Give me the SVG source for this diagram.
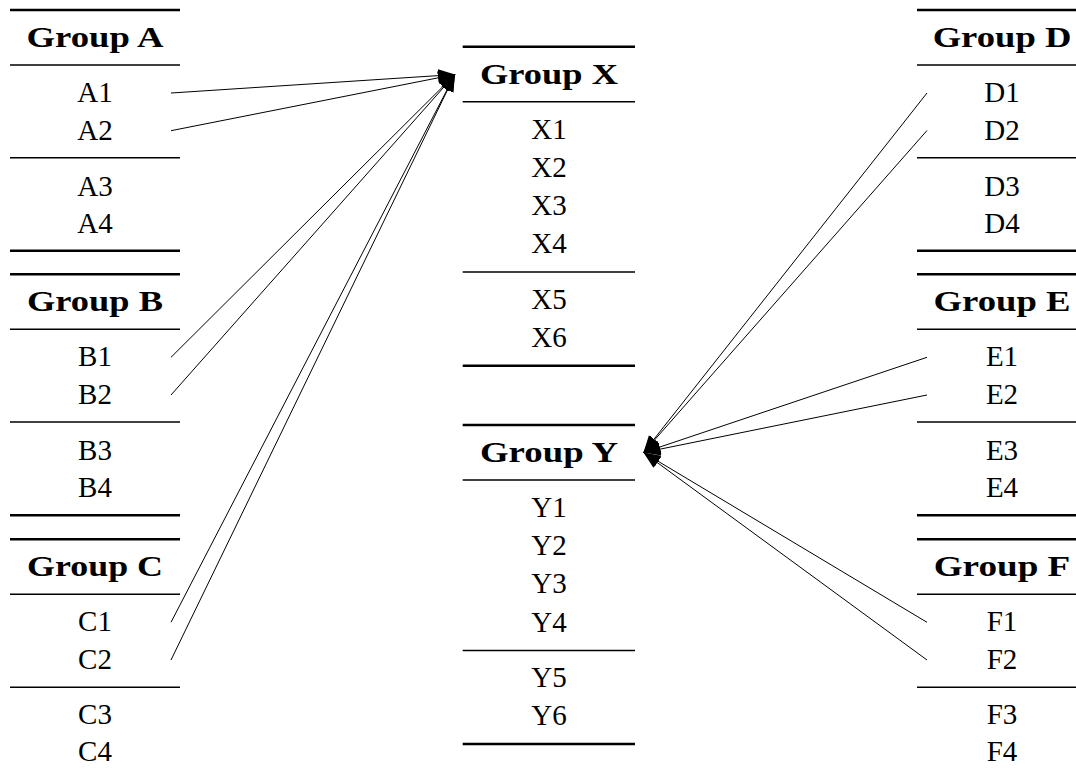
<svg xmlns="http://www.w3.org/2000/svg" width="1076" height="778" viewBox="0 0 1076 778">
<style>
.thick{stroke:#000;stroke-width:2.6;fill:none}
.thin{stroke:#000;stroke-width:1.6;fill:none}
.hd{font-family:"Liberation Serif","Times New Roman",serif;font-weight:bold;font-size:29px;text-anchor:middle;fill:#000}
.tx{font-family:"Liberation Serif","Times New Roman",serif;font-size:29px;text-anchor:middle;fill:#000}
.cn{stroke:#000;stroke-width:1;fill:none;marker-end:url(#ah)}
</style>
<defs>
<marker id="ah" markerUnits="userSpaceOnUse" markerWidth="20" markerHeight="16" viewBox="0 -8 20 16" refX="17" refY="0" orient="auto">
<path d="M0,-6.5 L17,0 L0,6.5 z" fill="#000"/>
</marker>
</defs>
<rect width="1076" height="778" fill="#fff"/>

<g id="groupA">
<line class="thick" x1="10" y1="10" x2="180" y2="10"/>
<text class="hd" x="95" y="46.5" textLength="137" lengthAdjust="spacingAndGlyphs">Group A</text>
<line class="thin" x1="10" y1="65" x2="180" y2="65"/>
<text class="tx" x="95" y="102">A1</text>
<text class="tx" x="95" y="139.5">A2</text>
<line class="thin" x1="10" y1="157.7" x2="180" y2="157.7"/>
<text class="tx" x="95" y="195.5">A3</text>
<text class="tx" x="95" y="233">A4</text>
<line class="thick" x1="10" y1="250.7" x2="180" y2="250.7"/>
</g>

<g id="groupB">
<line class="thick" x1="10" y1="274.3" x2="180" y2="274.3"/>
<text class="hd" x="95" y="310.8" textLength="136" lengthAdjust="spacingAndGlyphs">Group B</text>
<line class="thin" x1="10" y1="329.3" x2="180" y2="329.3"/>
<text class="tx" x="95" y="366.3">B1</text>
<text class="tx" x="95" y="403.8">B2</text>
<line class="thin" x1="10" y1="422" x2="180" y2="422"/>
<text class="tx" x="95" y="459.8">B3</text>
<text class="tx" x="95" y="497">B4</text>
<line class="thick" x1="10" y1="515.3" x2="180" y2="515.3"/>
</g>

<g id="groupC">
<line class="thick" x1="10" y1="539.3" x2="180" y2="539.3"/>
<text class="hd" x="95" y="575.8" textLength="136" lengthAdjust="spacingAndGlyphs">Group C</text>
<line class="thin" x1="10" y1="594.3" x2="180" y2="594.3"/>
<text class="tx" x="95" y="631.3">C1</text>
<text class="tx" x="95" y="668.8">C2</text>
<line class="thin" x1="10" y1="687.3" x2="180" y2="687.3"/>
<text class="tx" x="95" y="723.5">C3</text>
<text class="tx" x="95" y="761">C4</text>
</g>

<g id="groupX">
<line class="thick" x1="462.7" y1="46.7" x2="635" y2="46.7"/>
<text class="hd" x="549" y="83.7" textLength="138" lengthAdjust="spacingAndGlyphs">Group X</text>
<line class="thin" x1="462.7" y1="101.7" x2="635" y2="101.7"/>
<text class="tx" x="549" y="138.5">X1</text>
<text class="tx" x="549" y="176.8">X2</text>
<text class="tx" x="549" y="215.1">X3</text>
<text class="tx" x="549" y="253.4">X4</text>
<line class="thin" x1="462.7" y1="272" x2="635" y2="272"/>
<text class="tx" x="549" y="308.5">X5</text>
<text class="tx" x="549" y="347">X6</text>
<line class="thick" x1="462.7" y1="365.7" x2="635" y2="365.7"/>
</g>

<g id="groupY">
<line class="thick" x1="462.7" y1="425" x2="635" y2="425"/>
<text class="hd" x="549" y="462" textLength="138" lengthAdjust="spacingAndGlyphs">Group Y</text>
<line class="thin" x1="462.7" y1="480" x2="635" y2="480"/>
<text class="tx" x="549" y="516.8">Y1</text>
<text class="tx" x="549" y="555.1">Y2</text>
<text class="tx" x="549" y="593.4">Y3</text>
<text class="tx" x="549" y="631.7">Y4</text>
<line class="thin" x1="462.7" y1="650.5" x2="635" y2="650.5"/>
<text class="tx" x="549" y="686.8">Y5</text>
<text class="tx" x="549" y="725.3">Y6</text>
<line class="thick" x1="462.7" y1="744" x2="635" y2="744"/>
</g>

<g id="groupD">
<line class="thick" x1="917" y1="10" x2="1087" y2="10"/>
<text class="hd" x="1002" y="46.5" textLength="138.7" lengthAdjust="spacingAndGlyphs">Group D</text>
<line class="thin" x1="917" y1="65" x2="1087" y2="65"/>
<text class="tx" x="1002" y="102">D1</text>
<text class="tx" x="1002" y="139.5">D2</text>
<line class="thin" x1="917" y1="157.7" x2="1087" y2="157.7"/>
<text class="tx" x="1002" y="195.5">D3</text>
<text class="tx" x="1002" y="233">D4</text>
<line class="thick" x1="917" y1="250.7" x2="1087" y2="250.7"/>
</g>

<g id="groupE">
<line class="thick" x1="917" y1="274.3" x2="1087" y2="274.3"/>
<text class="hd" x="1002" y="310.8" textLength="137" lengthAdjust="spacingAndGlyphs">Group E</text>
<line class="thin" x1="917" y1="329.3" x2="1087" y2="329.3"/>
<text class="tx" x="1002" y="366.3">E1</text>
<text class="tx" x="1002" y="403.8">E2</text>
<line class="thin" x1="917" y1="422" x2="1087" y2="422"/>
<text class="tx" x="1002" y="459.8">E3</text>
<text class="tx" x="1002" y="497">E4</text>
<line class="thick" x1="917" y1="515.3" x2="1087" y2="515.3"/>
</g>

<g id="groupF">
<line class="thick" x1="917" y1="539.3" x2="1087" y2="539.3"/>
<text class="hd" x="1002" y="575.8" textLength="136.7" lengthAdjust="spacingAndGlyphs">Group F</text>
<line class="thin" x1="917" y1="594.3" x2="1087" y2="594.3"/>
<text class="tx" x="1002" y="631.3">F1</text>
<text class="tx" x="1002" y="668.8">F2</text>
<line class="thin" x1="917" y1="687.3" x2="1087" y2="687.3"/>
<text class="tx" x="1002" y="723.5">F3</text>
<text class="tx" x="1002" y="761">F4</text>
</g>

<g id="connectors">
<line class="cn" x1="171" y1="93" x2="455" y2="74.5"/>
<line class="cn" x1="171" y1="130.7" x2="455" y2="74.5"/>
<line class="cn" x1="171" y1="357.3" x2="455" y2="74.5"/>
<line class="cn" x1="171" y1="395" x2="455" y2="74.5"/>
<line class="cn" x1="171" y1="622.3" x2="455" y2="74.5"/>
<line class="cn" x1="171" y1="660" x2="455" y2="74.5"/>
<line class="cn" x1="927" y1="93" x2="643.5" y2="452.5"/>
<line class="cn" x1="927" y1="130.5" x2="643.5" y2="452.5"/>
<line class="cn" x1="927" y1="357.3" x2="643.5" y2="452.5"/>
<line class="cn" x1="927" y1="395" x2="643.5" y2="452.5"/>
<line class="cn" x1="927" y1="622.3" x2="643.5" y2="452.5"/>
<line class="cn" x1="927" y1="660" x2="643.5" y2="452.5"/>
</g>
</svg>
